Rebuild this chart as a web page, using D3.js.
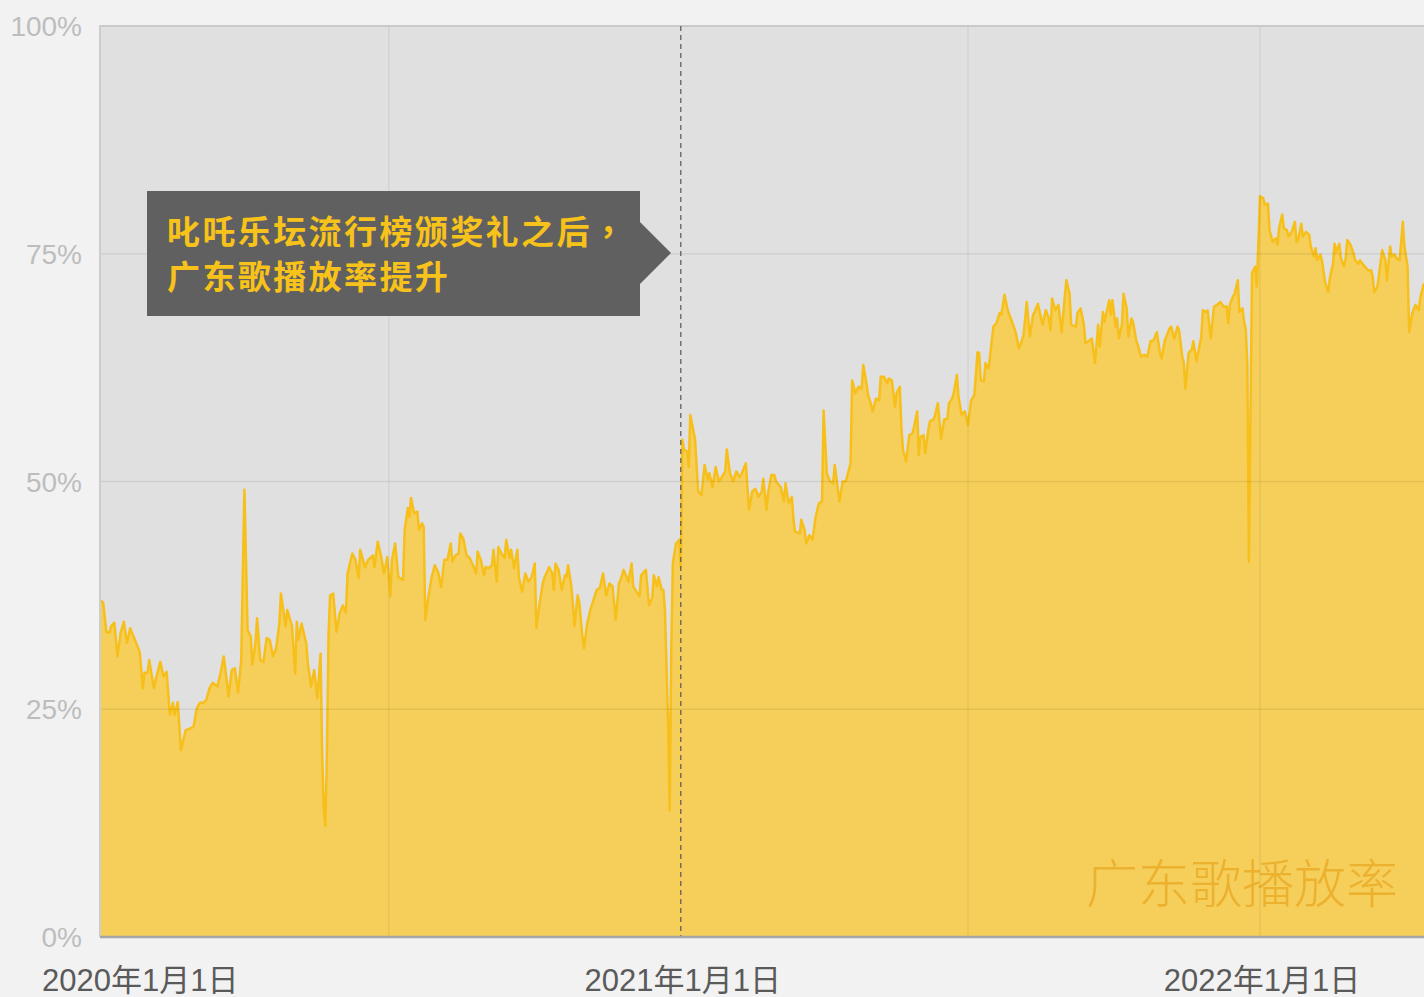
<!DOCTYPE html>
<html>
<head>
<meta charset="utf-8">
<script src="https://cdn.jsdelivr.net/npm/d3@7"></script>
<style>
  body { margin: 0; background: #f2f2f2; overflow: hidden; }
  svg { display: block; }
</style>
</head>
<body>
<div id="chart"></div>
<script>
// days since 2020-01-01, and the Cantonese-song play share (%)
const startDay = "2020-01-01"
const days = [
  0, 2, 4, 6, 7, 9, 11, 13, 15, 17, 19, 22, 25, 27, 28, 30, 31, 34, 35, 38,
  40, 42, 44, 46, 47, 49, 51, 54, 57, 59, 61, 63, 65, 67, 69, 71, 74, 76, 78, 80,
  81, 83, 85, 87, 89, 91, 93, 95, 96, 98, 99, 101, 103, 105, 107, 109, 111, 113, 114, 117,
  118, 121, 123, 124, 125, 127, 130, 131, 133, 135, 137, 139, 140, 141, 142, 143, 144, 145, 147, 149,
  151, 153, 155, 156, 159, 161, 163, 164, 167, 169, 172, 173, 175, 177, 179, 181, 183, 184, 186, 188,
  191, 192, 194, 195, 196, 198, 200, 201, 203, 204, 205, 207, 209, 211, 213, 215, 217, 219, 221, 222,
  224, 226, 227, 229, 231, 233, 235, 237, 238, 240, 242, 243, 245, 247, 248, 250, 251, 253, 255, 256,
  258, 259, 261, 263, 264, 266, 268, 270, 272, 274, 275, 277, 279, 280, 283, 285, 286, 287, 289, 291,
  293, 294, 295, 297, 298, 299, 301, 302, 304, 305, 307, 309, 311, 313, 315, 317, 319, 321, 323, 325,
  327, 328, 330, 333, 335, 336, 338, 340, 341, 344, 346, 348, 349, 351, 352, 354, 355, 356, 358, 359,
  360, 361, 363, 365, 366, 367, 368, 370, 371, 372, 373, 375, 376, 377, 379, 381, 383, 384, 386, 388,
  390, 392, 394, 395, 397, 399, 401, 403, 404, 407, 408, 409, 411, 413, 415, 417, 418, 420, 421, 423,
  425, 426, 429, 431, 432, 434, 436, 437, 438, 441, 442, 444, 445, 447, 449, 451, 453, 455, 456, 458,
  460, 462, 463, 464, 465, 466, 468, 470, 472, 473, 474, 476, 478, 480, 481, 483, 484, 486, 487, 489,
  491, 492, 494, 496, 497, 499, 501, 502, 504, 505, 506, 508, 510, 512, 513, 515, 516, 517, 519, 520,
  522, 523, 525, 526, 528, 530, 532, 534, 535, 537, 538, 540, 541, 543, 545, 547, 549, 551, 553, 554,
  555, 557, 558, 560, 563, 565, 567, 568, 570, 572, 575, 577, 579, 581, 582, 584, 586, 588, 589, 591,
  594, 596, 598, 599, 600, 602, 604, 606, 608, 609, 611, 612, 615, 616, 618, 620, 621, 623, 625, 627,
  629, 630, 632, 633, 636, 637, 638, 640, 641, 642, 644, 645, 647, 648, 650, 651, 653, 654, 656, 658,
  660, 662, 664, 666, 668, 669, 671, 672, 674, 675, 677, 679, 680, 682, 683, 684, 686, 688, 689, 691,
  693, 694, 695, 697, 698, 700, 702, 704, 706, 708, 710, 711, 712, 714, 715, 717, 718, 720, 721, 722,
  723, 724, 725, 726, 728, 729, 731, 733, 734, 736, 737, 739, 741, 742, 743, 745, 746, 748, 749, 751,
  753, 754, 755, 757, 758, 760, 762, 763, 765, 766, 767, 769, 770, 772, 774, 775, 777, 778, 779, 781,
  782, 784, 785, 786, 788, 790, 791, 793, 794, 796, 798, 799, 801, 802, 803, 805, 806, 808, 810, 811,
  813, 814, 816, 817, 819, 821, 822, 824, 825, 827, 829, 831, 832, 834, 837
]
const share = [
  37.0, 36.7, 33.5, 33.4, 34.1, 34.5, 30.8, 33.4, 34.6, 32.3, 33.9, 32.6, 31.3, 27.3, 29.0, 29.0, 30.4, 27.3, 28.2, 30.2,
  28.6, 29.1, 24.4, 25.7, 24.4, 25.8, 20.5, 22.7, 22.9, 23.1, 25.1, 25.7, 25.7, 26.0, 27.3, 27.9, 27.5, 29.0, 30.8, 27.9,
  26.4, 29.3, 29.5, 26.8, 30.4, 49.1, 33.7, 33.0, 29.9, 32.3, 35.0, 30.4, 30.2, 32.8, 32.6, 30.8, 31.7, 34.4, 37.7, 34.1,
  35.9, 34.1, 28.9, 34.6, 32.6, 34.4, 32.2, 30.0, 27.5, 29.3, 26.2, 31.1, 20.0, 14.0, 12.2, 20.0, 33.0, 37.5, 37.7, 33.5,
  35.5, 36.4, 35.6, 39.9, 42.1, 41.4, 39.4, 42.5, 40.6, 41.4, 41.9, 40.6, 43.4, 41.9, 39.9, 41.7, 37.4, 41.4, 43.2, 39.5,
  39.2, 44.7, 47.1, 46.1, 48.2, 46.5, 46.7, 44.7, 45.4, 45.0, 34.8, 37.4, 39.5, 40.8, 40.1, 38.4, 41.4, 41.4, 43.2, 41.2,
  41.9, 42.1, 44.3, 43.7, 41.9, 41.6, 40.8, 39.9, 42.3, 41.4, 39.7, 40.6, 40.5, 40.8, 42.5, 39.0, 42.8, 42.1, 41.6, 43.6,
  41.6, 42.5, 40.5, 42.5, 39.5, 37.9, 39.9, 39.0, 39.5, 41.0, 33.9, 36.6, 38.8, 39.4, 40.6, 39.9, 38.1, 41.0, 40.3, 38.1,
  39.7, 39.5, 40.8, 38.5, 36.6, 34.1, 37.5, 36.8, 33.0, 31.7, 34.4, 35.9, 37.0, 38.1, 38.3, 39.9, 37.5, 38.8, 38.5, 34.8,
  38.8, 39.2, 40.3, 39.0, 41.0, 38.5, 37.9, 37.4, 39.7, 40.3, 36.4, 37.2, 39.7, 38.5, 39.5, 38.1, 38.1, 35.9, 23.5, 13.9,
  31.5, 41.0, 43.2, 43.6, 40.5, 54.6, 53.5, 53.3, 51.6, 57.3, 56.4, 54.6, 51.6, 48.9, 48.5, 51.8, 50.2, 50.9, 49.4, 51.6,
  50.0, 50.5, 51.1, 53.5, 50.9, 50.0, 51.1, 50.5, 50.7, 52.0, 49.4, 46.9, 48.9, 49.2, 48.3, 48.9, 50.3, 46.9, 48.7, 50.7,
  50.7, 50.0, 49.4, 47.8, 49.8, 47.6, 48.3, 45.8, 44.5, 44.3, 45.8, 44.7, 43.2, 44.1, 43.6, 46.1, 47.6, 47.8, 57.8, 50.9,
  50.0, 49.8, 51.8, 50.5, 49.1, 47.8, 50.0, 50.0, 51.3, 52.0, 61.1, 59.7, 60.4, 60.2, 62.8, 60.8, 59.5, 58.4, 57.7, 59.1,
  58.9, 61.5, 61.5, 60.8, 61.3, 61.1, 58.2, 59.7, 60.4, 56.0, 53.5, 52.2, 55.1, 55.3, 56.0, 57.7, 52.9, 54.9, 55.1, 53.1,
  55.7, 56.6, 56.8, 57.1, 58.6, 54.7, 56.8, 56.9, 58.6, 59.1, 59.7, 61.7, 59.3, 57.3, 57.7, 56.2, 58.9, 59.5, 64.2, 64.1,
  61.1, 61.0, 63.0, 62.4, 67.0, 67.4, 68.5, 68.3, 70.5, 68.8, 67.4, 66.4, 64.6, 65.5, 66.1, 69.7, 65.9, 68.3, 68.6, 69.5,
  67.2, 68.8, 67.9, 66.6, 70.1, 68.8, 69.4, 66.4, 70.3, 72.1, 70.6, 67.2, 67.0, 68.5, 69.0, 67.2, 65.2, 65.4, 65.7, 63.0,
  67.2, 64.8, 68.6, 67.5, 69.9, 68.3, 69.9, 67.0, 67.9, 65.7, 67.2, 70.6, 69.0, 65.9, 67.9, 67.5, 65.5, 65.0, 63.7, 63.9,
  63.7, 65.4, 65.5, 66.4, 64.1, 63.5, 65.5, 65.9, 66.8, 67.0, 65.7, 67.0, 66.6, 63.7, 63.0, 60.2, 64.1, 64.5, 65.4, 63.2,
  65.0, 65.9, 68.8, 68.6, 68.8, 65.7, 69.2, 69.4, 69.7, 69.2, 69.2, 67.4, 69.4, 70.3, 70.6, 72.1, 68.6, 69.0, 67.5, 66.8,
  63.0, 41.2, 57.5, 72.9, 73.6, 71.4, 81.3, 81.1, 80.4, 80.5, 77.6, 76.3, 76.7, 76.0, 77.8, 79.3, 77.8, 77.6, 76.9, 77.4,
  78.5, 76.3, 76.5, 78.3, 76.9, 77.4, 77.1, 75.8, 74.7, 75.6, 74.3, 74.9, 74.3, 71.9, 70.8, 72.3, 73.9, 76.1, 75.2, 76.1,
  74.5, 73.6, 74.5, 76.5, 76.0, 75.0, 74.3, 73.9, 74.3, 73.8, 73.4, 73.2, 73.2, 72.5, 70.8, 71.4, 72.7, 75.4, 74.3, 72.1,
  75.8, 74.7, 74.9, 74.5, 74.3, 78.5, 75.8, 73.6, 66.4, 68.5, 69.4, 68.8, 70.1, 71.6, 72.0
]

const yTicks = [0, 25, 50, 75, 100]
const xTicks = ["2020-01-01", "2021-01-01", "2022-01-01"]
const xTickLabels = ["2020年1月1日", "2021年1月1日", "2022年1月1日"]
const gridDates = ["2020-07-01", "2021-07-01", "2022-01-01"]
const markerDate = "2021-01-01"
const noteLines = ["叱吒乐坛流行榜颁奖礼之后，", "广东歌播放率提升"]
const watermark = "广东歌播放率"

const w = 1424,
      h = 997,
      margin = {top: 26, right: 0, bottom: 60, left: 100},
      parse = d3.timeParse("%Y-%m-%d"),
      start = parse(startDay)

const x = d3.scaleTime()
  .domain([parse("2020-01-01"), parse("2022-01-01")])
  .range([margin.left, 1260])
const y = d3.scaleLinear()
  .domain([0, 100])
  .range([h - margin.bottom, margin.top])

const data = days.map((d, i) => ({date: d3.timeDay.offset(start, d), v: share[i]}))

const svg = d3.select("#chart").append("svg")
  .attr("width", w)
  .attr("height", h)

// plot background
svg.append("rect")
  .attr("x", margin.left)
  .attr("y", y(100))
  .attr("width", w - margin.left)
  .attr("height", y(0) - y(100))
  .attr("fill", "#e0e0e0")

svg.append("clipPath")
  .attr("id", "plot-clip")
  .append("rect")
  .attr("x", margin.left)
  .attr("y", y(100))
  .attr("width", w - margin.left)
  .attr("height", y(0) - y(100))

svg.append("path")
  .datum(data)
  .attr("fill", "#f6cf5a")
  .attr("clip-path", "url(#plot-clip)")
  .attr("d", d3.area()
    .x(d => x(d.date))
    .y0(y(0))
    .y1(d => y(d.v)))

svg.append("path")
  .datum(data)
  .attr("fill", "none")
  .attr("stroke", "#f7bf1a")
  .attr("stroke-width", 2.5)
  .attr("stroke-linejoin", "round")
  .attr("clip-path", "url(#plot-clip)")
  .attr("d", d3.line()
    .x(d => x(d.date))
    .y(d => y(d.v)))

// watermark
svg.append("text")
  .attr("x", 1398)
  .attr("y", 903)
  .attr("text-anchor", "end")
  .attr("font-family", "'Noto Sans CJK SC', sans-serif")
  .attr("font-weight", 300)
  .attr("font-size", 52)
  .attr("fill", "#e9ab28")
  .attr("fill-opacity", 0.85)
  .text(watermark)

// grid lines drawn over the area
svg.append("g")
  .selectAll("line")
  .data(yTicks.filter(t => t > 0 && t < 100))
  .join("line")
  .attr("x1", margin.left)
  .attr("x2", w)
  .attr("y1", d => y(d))
  .attr("y2", d => y(d))
  .attr("stroke", "#000")
  .attr("stroke-opacity", 0.07)
  .attr("stroke-width", 1.5)

svg.append("g")
  .selectAll("line")
  .data(gridDates)
  .join("line")
  .attr("x1", d => x(parse(d)))
  .attr("x2", d => x(parse(d)))
  .attr("y1", y(100))
  .attr("y2", y(0))
  .attr("stroke", "#000")
  .attr("stroke-opacity", 0.06)
  .attr("stroke-width", 1.5)

svg.append("line")
  .attr("x1", margin.left)
  .attr("x2", w)
  .attr("y1", y(100))
  .attr("y2", y(100))
  .attr("stroke", "#c9c9c9")
  .attr("stroke-width", 2)

svg.append("line")
  .attr("x1", margin.left)
  .attr("x2", margin.left)
  .attr("y1", y(100) - 1)
  .attr("y2", y(0))
  .attr("stroke", "#cdcdcd")
  .attr("stroke-width", 2)

// 2021-01-01 marker
svg.append("line")
  .attr("x1", x(parse(markerDate)))
  .attr("x2", x(parse(markerDate)))
  .attr("y1", y(100))
  .attr("y2", y(0))
  .attr("stroke", "#555")
  .attr("stroke-width", 1.2)
  .attr("stroke-dasharray", "5,4")

// x axis line
svg.append("line")
  .attr("x1", margin.left)
  .attr("x2", w)
  .attr("y1", y(0))
  .attr("y2", y(0))
  .attr("stroke", "#a6a6a6")
  .attr("stroke-width", 2.5)

// y labels
svg.append("g")
  .selectAll("text")
  .data(yTicks)
  .join("text")
  .attr("x", 82)
  .attr("y", d => y(d))
  .attr("dy", "0.36em")
  .attr("text-anchor", "end")
  .attr("font-family", "'Liberation Sans', Arial, sans-serif")
  .attr("font-size", 28)
  .attr("fill", "#bdbdbd")
  .text(d => d + "%")

// x labels
svg.append("g")
  .selectAll("text")
  .data(xTicks)
  .join("text")
  .attr("x", (d, i) => i === 0 ? 42 : x(parse(d)) + 2)
  .attr("y", 991)
  .attr("text-anchor", (d, i) => i === 0 ? "start" : "middle")
  .attr("font-family", "'Liberation Sans', 'Noto Sans CJK SC', sans-serif")
  .attr("font-size", 31)
  .attr("fill", "#5a5a5a")
  .text((d, i) => xTickLabels[i])

// annotation box with arrow pointing at the marker
const note = svg.append("g")
note.append("path")
  .attr("d", "M147,191 H640 V222 L671,253 L640,284 V316 H147 Z")
  .attr("fill", "#606060")

note.selectAll("text")
  .data(noteLines)
  .join("text")
  .attr("x", 167)
  .attr("y", (d, i) => 244 + i * 45)
  .attr("font-family", "'Noto Sans CJK TC', 'Noto Sans CJK SC', sans-serif")
  .attr("font-weight", 700)
  .attr("font-size", 33)
  .attr("letter-spacing", 2.4)
  .attr("fill", "#f7c21a")
  .text(d => d)
</script>
</body>
</html>
